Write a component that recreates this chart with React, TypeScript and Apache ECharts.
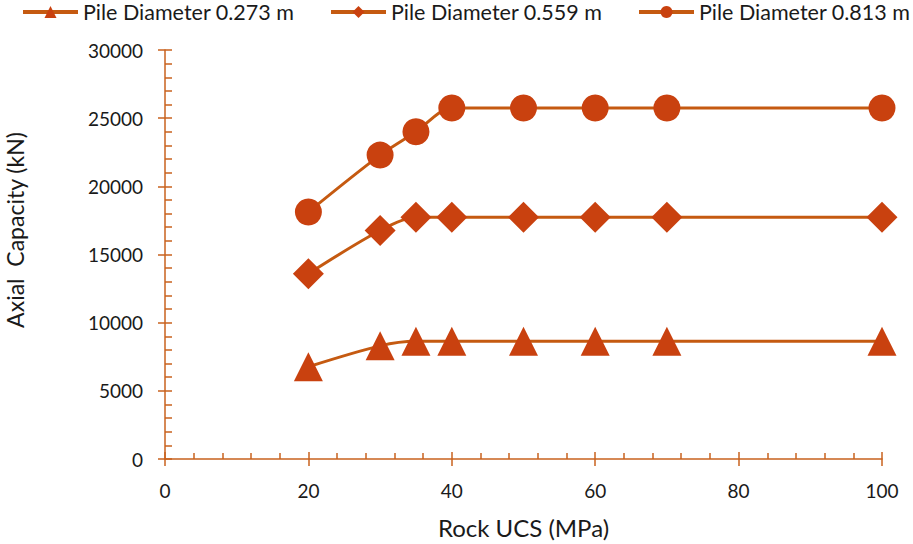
import React, { useEffect, useRef } from "react";
import * as echarts from "echarts";

const ucs = [20, 30, 35, 40, 50, 60, 70, 100];
const d0273 = [6770, 8300, 8630, 8630, 8630, 8630, 8630, 8630];
const d0559 = [13590, 16760, 17730, 17730, 17730, 17730, 17730, 17730];
const d0813 = [18120, 22290, 24000, 25750, 25750, 25750, 25750, 25750];
const seriesNames = ["Pile Diameter 0.273 m", "Pile Diameter 0.559 m", "Pile Diameter 0.813 m"];
const xTitle = "Rock UCS (MPa)";
const yTitle = "Axial  Capacity (kN)";

const LINE = "#C55A11";
const MARK = "#C9410F";
const AXIS = "#C8621E";
const FONT = "Lato";
const TXT = "#1a1a1a";

export default function App() {
  const ref = useRef<HTMLDivElement>(null);
  useEffect(() => {
    if (!ref.current) return;
    const chart = echarts.init(ref.current, undefined, { renderer: "svg" });
    const mk = (name: string, data: number[], symbol: string, size: number) => ({
      type: "line",
      name,
      data: ucs.map((x, i) => [x, data[i]]),
      symbol,
      symbolSize: size,
      smooth: 0.3,
      lineStyle: { color: LINE, width: 3 },
      itemStyle: { color: MARK },
      xAxisIndex: 0,
      yAxisIndex: 0,
    });
    const legendCommon = {
      top: 1,
      padding: 0,
      itemWidth: 55,
      itemHeight: 15,
      itemGap: 4,
      textStyle: { fontFamily: FONT, fontSize: 21.5, color: TXT },
      lineStyle: { width: 4, color: LINE },
    };
    const plain = (v: number) => String(v);
    chart.setOption({
      animation: false,
      textStyle: { fontFamily: FONT },
      grid: { left: 165, right: 31, top: 50, bottom: 84, containLabel: false },
      legend: [
        { ...legendCommon, left: 21, data: [seriesNames[0]] },
        { ...legendCommon, left: 329, data: [seriesNames[1]] },
        { ...legendCommon, left: 637, data: [seriesNames[2]] },
      ],
      xAxis: [
        {
          type: "value",
          min: 0,
          max: 100,
          interval: 20,
          name: xTitle,
          nameLocation: "middle",
          nameGap: 56,
          nameTextStyle: { fontFamily: FONT, fontSize: 24, color: TXT },
          axisLine: { show: true, lineStyle: { color: AXIS, width: 1.5 } },
          axisTick: { show: true, inside: true, length: 7, lineStyle: { color: AXIS, width: 1.5 } },
          minorTick: { show: true, splitNumber: 5, length: 6, lineStyle: { color: AXIS, width: 1.5 } },
          axisLabel: { fontFamily: FONT, fontSize: 19, color: TXT, margin: 22, formatter: plain },
          splitLine: { show: false },
          minorSplitLine: { show: false },
        },
        {
          type: "value",
          min: 0,
          max: 100,
          interval: 20,
          position: "bottom",
          axisLine: { show: false },
          axisTick: { show: true, inside: false, length: 7, lineStyle: { color: AXIS, width: 1.5 } },
          axisLabel: { show: false },
          splitLine: { show: false },
        },
      ],
      yAxis: [
        {
          type: "value",
          min: 0,
          max: 30000,
          interval: 5000,
          axisLine: { show: true, lineStyle: { color: AXIS, width: 1.5 } },
          axisTick: { show: true, inside: true, length: 7, lineStyle: { color: AXIS, width: 1.5 } },
          minorTick: { show: true, splitNumber: 5, length: 7, lineStyle: { color: AXIS, width: 1.5 } },
          axisLabel: { fontFamily: FONT, fontSize: 19, color: TXT, margin: 22, formatter: plain },
          splitLine: { show: false },
          minorSplitLine: { show: false },
        },
        {
          type: "value",
          min: 0,
          max: 30000,
          interval: 5000,
          position: "left",
          axisLine: { show: false },
          axisTick: { show: true, inside: false, length: 7, lineStyle: { color: AXIS, width: 1.5 } },
          axisLabel: { show: false },
          splitLine: { show: false },
        },
      ],
      graphic: [
        {
          type: "text",
          x: 15,
          y: 230,
          rotation: Math.PI / 2,
          style: {
            text: yTitle,
            fontFamily: FONT,
            fontSize: 23,
            fill: TXT,
            align: "center",
            verticalAlign: "middle",
          },
        },
      ],
      series: [
        mk(seriesNames[0], d0273, "triangle", 29),
        mk(seriesNames[1], d0559, "diamond", 31),
        mk(seriesNames[2], d0813, "circle", 27),
      ],
    });
    return () => chart.dispose();
  }, []);
  return <div ref={ref} style={{ width: 913, height: 544, position: "absolute", left: 0, top: 0 }} />;
}
